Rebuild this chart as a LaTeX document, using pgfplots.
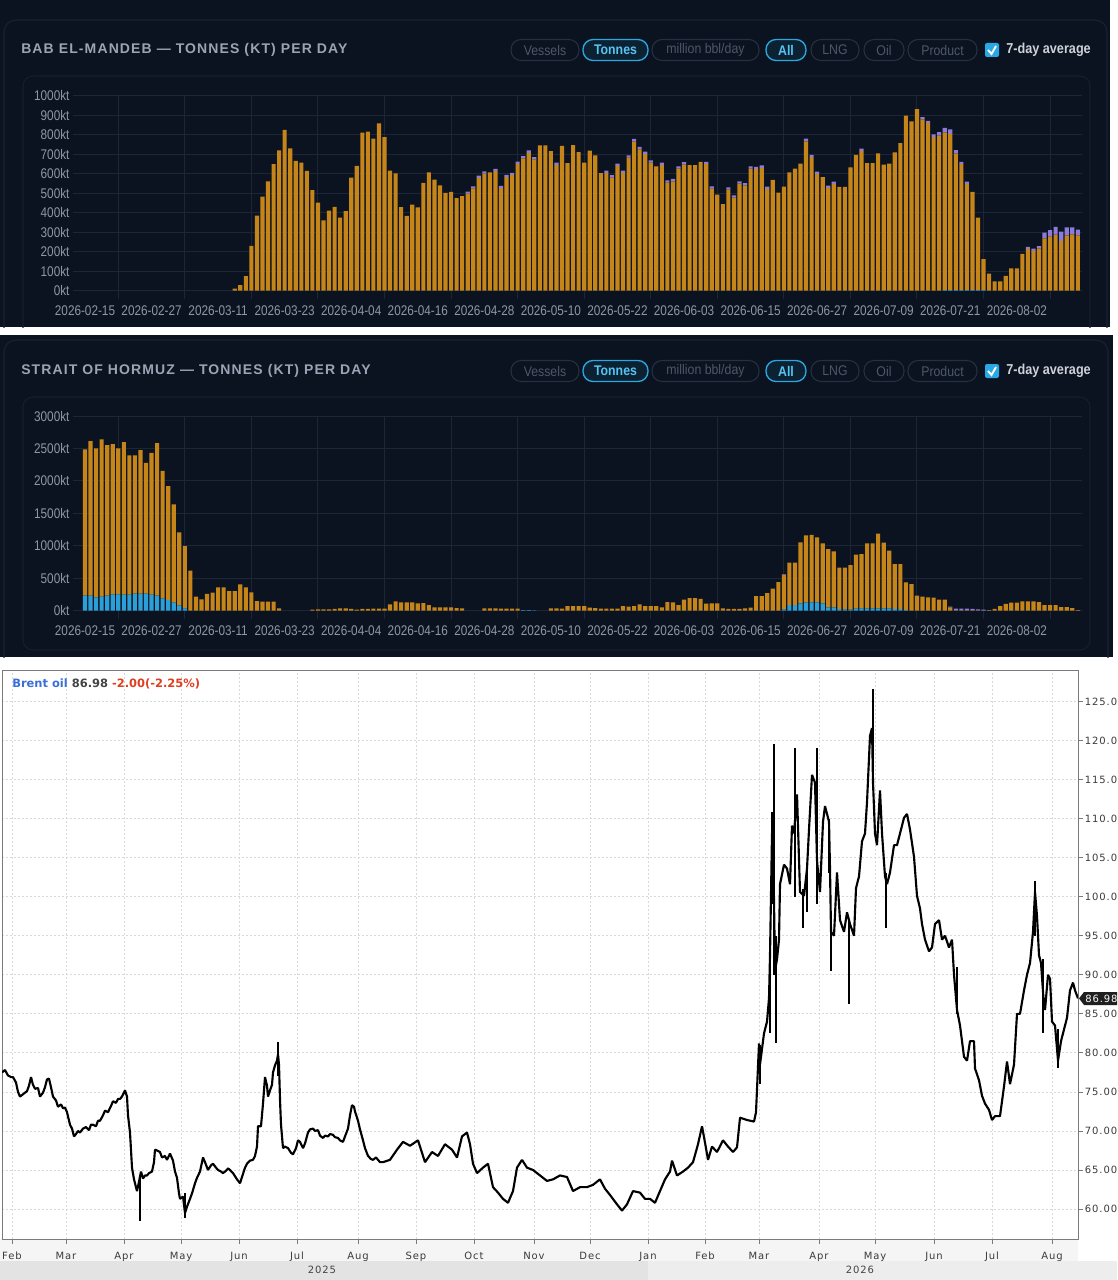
\documentclass[border=0pt]{standalone}
\usepackage{fontspec}
\setmainfont{Liberation Sans}
\newfontfamily\titlefont[LetterSpace=8]{Liberation Sans}
\newfontfamily\tickfont[FakeStretch=0.84]{Liberation Sans}
\newfontfamily\btnfont[FakeStretch=0.88]{Liberation Sans}
\newfontfamily\dvs[LetterSpace=9]{DejaVu Sans}
\newfontfamily\dvsb{DejaVu Sans}
\usepackage{pgfplots}
\usepackage{pgfplotstable}
\pgfplotsset{compat=1.18}

\definecolor{bg}{HTML}{0B1220}
\definecolor{cardc}{HTML}{1A2233}
\definecolor{cardc2}{HTML}{161E2D}
\definecolor{gridc}{HTML}{1C2636}
\definecolor{tickc}{HTML}{8E97A6}
\definecolor{titlec}{HTML}{9AA4B4}
\definecolor{oilc}{HTML}{C58519}
\definecolor{lngc}{HTML}{2B9FD8}
\definecolor{prodc}{HTML}{8C7BD8}
\definecolor{inb}{HTML}{253041}
\definecolor{intc}{HTML}{4E5869}
\definecolor{actb}{HTML}{2AA8E0}
\definecolor{actf}{HTML}{0C2233}
\definecolor{actt}{HTML}{55C4F2}
\definecolor{chk}{HTML}{2AA7E5}
\definecolor{avgc}{HTML}{CDD2D9}
\definecolor{brentblue}{HTML}{3A6FD8}
\definecolor{gray3}{HTML}{444444}
\definecolor{red3}{HTML}{E03C1E}
\definecolor{gridgray}{HTML}{D9D9D9}
\definecolor{axisgray}{HTML}{7A7A7A}
\definecolor{labgray}{HTML}{3A3A3A}

\newcommand{\pill}[5]{%
  \ifnum#4=1
    \draw[actb, fill=actf, line width=1pt, rounded corners=7.5pt] (#1,#3-10.5) rectangle (#2,#3+10.5);
    \node[inner sep=0pt, text=actt, font=\btnfont\bfseries\fontsize{10.5}{12}\selectfont] at ({(#1+#2)/2},#3) {#5};
  \else
    \draw[inb, line width=0.8pt, rounded corners=7.5pt] (#1,#3-10.5) rectangle (#2,#3+10.5);
    \node[inner sep=0pt, text=intc, font=\btnfont\fontsize{10.5}{12}\selectfont] at ({(#1+#2)/2},#3) {#5};
  \fi}
\newcommand{\header}[2]{%
  \node[anchor=west, inner sep=0pt, text=titlec, font=\titlefont\bfseries\fontsize{10.5}{12}\selectfont] at (21,#1) {#2};
  \pill{511}{579}{#1}{0}{Vessels}
  \pill{583}{648}{#1}{1}{Tonnes}
  \pill{652}{759}{#1}{0}{million bbl/day}
  \pill{766}{806}{#1}{1}{All}
  \pill{811}{859}{#1}{0}{LNG}
  \pill{864}{904}{#1}{0}{Oil}
  \pill{908}{977}{#1}{0}{Product}
  \fill[chk, rounded corners=1.5pt] (985,#1-7) rectangle (999,#1+7);
  \draw[white, line width=1.4pt] (988,#1) -- (991.5,#1+4) -- (996,#1-4);
  \node[anchor=west, inner sep=0pt, text=avgc, font=\btnfont\bfseries\fontsize{10.8}{12}\selectfont] at (1006,#1) {7-day average};
}

\pgfplotsset{
 darkax/.style={
  scale only axis, width=757.1pt,
  xmin=-2.2, xmax=179.8, ymin=0, enlargelimits=false,
  ybar stacked, bar width=3.1pt,
  axis line style={draw=none},
  xtick pos=lower, ytick pos=left, tick align=outside,
  major tick length=0pt, minor tick length=6pt,
  minor tick style={gridc, line width=0.75pt},
  xtick={0,12,...,168},
  xticklabels={2026-02-15,2026-02-27,2026-03-11,2026-03-23,2026-04-04,2026-04-16,2026-04-28,2026-05-10,2026-05-22,2026-06-03,2026-06-15,2026-06-27,2026-07-09,2026-07-21,2026-08-02},
  minor xtick={6,18,...,174},
  xmajorgrids=false, xminorgrids=true, ymajorgrids=true,
  grid style={gridc, line width=0.75pt},
  minor grid style={gridc, line width=0.75pt},
  x tick label style={font=\tickfont\fontsize{10.5}{12}\selectfont, text=tickc, anchor=base, inner sep=0pt, yshift=-18.8pt},
  y tick label style={font=\tickfont\fontsize{10.5}{12}\selectfont, text=tickc, anchor=east, inner sep=0pt, xshift=-2.3pt},
  yticklabel={\pgfmathparse{int(\tick)}\pgfmathresult kt},
 }
}

\begin{document}
\pgfplotstableread{
d b o p
27 0 10 0
28 0 28 0
29 0 75 0
30 0 230 0
31 0 385 0
32 0 482 0
33 0 561 0
34 0 649 0
35 0 719 0
36 0 824 0
37 0 730 0
38 0 666 0
39 0 657 0
40 0 614 0
41 0 516 0
42 0 451 0
43 0 360 0
44 0 410 0
45 0 430 0
46 0 375 0
47 0 408 0
48 0 580 0
49 0 640 0
50 0 810 0
51 0 816 0
52 0 780 0
53 0 858 0
54 0 788 0
55 0 616 0
56 0 602 0
57 0 428 0
58 0 384 0
59 0 441 0
60 0 427 0
61 0 553 0
62 0 606 0
63 0 570 0
64 0 540 0
65 0 502 0
66 0 506 0
67 0 475 0
68 0 485 0
69 0 498 10
70 0 525 10
71 0 578 12
72 0 600 12
73 0 606 0
74 0 613 12
75 0 526 12
76 0 582 12
77 0 592 12
78 0 650 12
79 0 678 12
80 0 707 12
81 0 673 12
82 0 745 0
83 0 745 0
84 0 716 0
85 0 644 12
86 0 742 0
87 0 654 0
88 0 747 0
89 0 711 0
90 0 656 0
91 0 718 0
92 0 694 0
93 0 603 0
94 0 604 12
95 0 580 12
96 0 640 12
97 0 604 12
98 0 682 12
99 0 764 14
100 0 725 12
101 0 701 12
102 0 656 12
103 0 638 0
104 0 644 12
105 0 554 12
106 0 561 12
107 0 626 12
108 0 647 12
109 0 644 0
110 0 644 0
111 0 661 0
112 0 649 12
113 0 523 12
114 0 492 0
115 0 444 0
116 0 518 12
117 0 477 12
118 0 549 12
119 0 539 12
120 0 626 12
121 0 623 12
122 0 630 12
123 0 521 12
124 0 568 0
125 0 503 0
126 0 533 0
127 0 606 0
128 0 626 0
129 0 652 0
130 0 766 14
131 0 685 12
132 0 599 12
133 0 582 0
134 0 527 12
135 0 547 12
136 0 532 0
137 0 532 0
138 0 632 0
139 0 697 0
140 0 716 12
141 0 654 0
142 0 654 0
143 0 704 0
144 0 647 0
145 0 652 0
146 0 709 0
147 0 756 0
148 0 897 0
149 0 868 0
150 0 931 0
151 0 878 12
152 0 859 12
153 0 787 15
154 0 795 18
155 3 809 23
156 3 801 23
157 3 700 18
158 3 646 12
159 3 544 12
160 3 503 0
161 3 372 0
162 3 159 0
163 0 88 0
164 0 48 0
165 0 48 0
166 0 76 0
167 0 114 0
168 0 114 0
169 0 189 0
170 0 213 12
171 0 203 12
172 0 217 12
173 0 268 30
174 0 277 33
175 0 287 40
176 0 255 48
177 0 284 40
178 0 289 35
179 0 283 30
}\bab
\pgfplotstableread{
d b o p
0 231 2254 0
1 231 2382 0
2 205 2295 0
3 215 2424 0
4 231 2320 0
5 252 2315 0
6 252 2248 0
7 246 2352 0
8 246 2146 0
9 262 2130 0
10 262 2212 0
11 262 2017 0
12 246 2187 0
13 231 2351 0
14 190 1966 0
15 164 1756 0
16 123 1515 0
17 82 1124 0
18 36 960 0
19 0 616 0
20 0 216 0
21 0 175 0
22 0 257 0
23 0 277 0
24 0 359 0
25 0 359 0
26 0 303 0
27 0 303 0
28 0 405 0
29 0 359 0
30 0 282 0
31 0 149 0
32 0 139 0
33 0 139 0
34 0 139 0
35 0 36 0
36 0 0 0
37 0 0 0
38 0 0 0
39 0 0 0
40 0 0 0
41 0 15 0
42 0 20 0
43 0 20 0
44 0 20 0
45 0 26 0
46 0 36 0
47 0 36 0
48 0 26 0
49 0 15 0
50 0 26 0
51 0 26 0
52 0 31 0
53 0 31 0
54 0 31 0
55 0 98 0
56 0 144 0
57 0 128 0
58 0 128 0
59 0 128 0
60 0 113 0
61 0 118 0
62 0 87 0
63 0 51 0
64 0 51 0
65 0 51 0
66 0 51 0
67 0 41 0
68 0 36 0
69 0 0 0
70 0 0 0
71 0 0 0
72 0 36 0
73 0 36 0
74 0 36 0
75 0 31 0
76 0 31 0
77 0 31 0
78 0 31 0
79 8 0 0
80 8 0 0
81 5 0 0
82 0 0 0
83 0 0 0
84 0 36 0
85 0 36 0
86 0 31 0
87 0 72 0
88 0 72 0
89 0 72 0
90 0 72 0
91 0 46 0
92 0 41 0
93 0 31 0
94 0 31 0
95 0 31 0
96 0 31 0
97 0 72 0
98 0 62 0
99 0 72 0
100 0 98 0
101 0 72 0
102 0 72 0
103 0 72 0
104 0 51 0
105 0 133 0
106 0 128 0
107 0 87 0
108 0 169 0
109 0 195 0
110 0 195 0
111 0 180 0
112 0 108 0
113 0 113 0
114 0 113 0
115 0 36 0
116 0 26 0
117 0 26 0
118 0 26 0
119 0 36 0
120 0 46 0
121 0 226 0
122 0 226 0
123 0 272 0
124 0 339 0
125 0 441 0
126 20 530 10
127 87 652 0
128 87 652 0
129 113 939 0
130 128 1032 0
131 128 1042 0
132 128 1001 0
133 113 924 0
134 52 898 0
135 52 862 0
136 26 636 0
137 20 642 0
138 15 688 0
139 36 826 0
140 36 837 0
141 36 1001 0
142 36 1001 0
143 36 1150 0
144 36 1011 0
145 36 888 0
146 26 693 0
147 26 693 0
148 10 426 0
149 0 411 0
150 0 231 0
151 0 216 0
152 0 205 0
153 0 200 0
154 0 169 0
155 0 169 0
156 0 52 10
157 0 5 26
158 0 5 26
159 0 5 26
160 0 5 21
161 0 5 16
162 0 0 15
163 0 10 0
164 0 26 0
165 0 72 0
166 0 103 0
167 0 123 0
168 0 123 0
169 0 144 0
170 0 144 0
171 0 144 0
172 0 133 0
173 0 87 0
174 0 87 0
175 0 87 0
176 0 56 0
177 0 56 0
178 0 41 0
179 0 10 0
}\hormuz

\begin{tikzpicture}
\useasboundingbox (0,0) rectangle (837.75pt,-960pt);
\clip (0,0) rectangle (837.75pt,-960pt);
\begin{scope}[x=0.75pt,y=-0.75pt]
  \fill[white] (0,0) rectangle (1117,1280);
  \fill[bg] (0,0) rectangle (1110,327);
  \fill[bg] (0,335) rectangle (1113,657);
  \begin{scope}
    \clip (0,0) rectangle (1110,327);
    \draw[cardc, line width=0.8pt, rounded corners=9pt] (4,20) rectangle (1107,420);
    \draw[cardc2, line width=0.8pt, rounded corners=7.5pt] (23,76) rectangle (1090,420);
  \end{scope}
  \begin{scope}
    \clip (0,335) rectangle (1113,657);
    \draw[cardc, line width=0.8pt, rounded corners=9pt] (4,340) rectangle (1108,720);
    \draw[cardc2, line width=0.8pt, rounded corners=7.5pt] (23,397) rectangle (1090,650);
  \end{scope}
  \header{50}{BAB EL-MANDEB — TONNES (KT) PER DAY}
  \header{371}{STRAIT OF HORMUZ — TONNES (KT) PER DAY}
  % Brent bottom bands
  \fill[black!4] (0,1239) rectangle (1078,1261);
  \fill[black!11] (0,1261) rectangle (648,1280);
  \fill[black!7] (648,1261) rectangle (1117,1280);
  \node[inner sep=0pt, text=gray3, font=\dvs\fontsize{7.5}{9}\selectfont] at (322,1270) {2025};
  \node[inner sep=0pt, text=gray3, font=\dvs\fontsize{7.5}{9}\selectfont] at (860,1270) {2026};
\end{scope}

% ---------- Bab el-Mandeb ----------
\begin{axis}[darkax, at={(54.6pt,-218pt)}, anchor=south west, height=146.25pt,
  ymax=1000, ytick={0,100,...,1000}]
  \addplot[fill=lngc, draw=none] table[x=d,y=b]{\bab};
  \addplot[fill=oilc, draw=none] table[x=d,y=o]{\bab};
  \addplot[fill=prodc, draw=none] table[x=d,y=p]{\bab};
\end{axis}

% ---------- Strait of Hormuz ----------
\begin{axis}[darkax, at={(54.6pt,-458pt)}, anchor=south west, height=146pt,
  ymax=3000, ytick={0,500,...,3000}]
  \addplot[fill=lngc, draw=none] table[x=d,y=b]{\hormuz};
  \addplot[fill=oilc, draw=none] table[x=d,y=o]{\hormuz};
  \addplot[fill=prodc, draw=none] table[x=d,y=p]{\hormuz};
\end{axis}

% ---------- Brent ----------
\begin{axis}[at={(1.5pt,-929.25pt)}, anchor=south west, scale only axis,
  width=807pt, height=426.75pt,
  xmin=2, xmax=1078, ymin=56.16, ymax=129.03, enlargelimits=false,
  xtick={12,66,124,181,239,297,358,416,474,534,590,648,705,759,819,875,934,992,1052},
  xticklabels={Feb,Mar,Apr,May,Jun,Jul,Aug,Sep,Oct,Nov,Dec,Jan,Feb,Mar,Apr,May,Jun,Jul,Aug},
  ytick={60,65,...,125},
  xtick pos=lower, ytick pos=right, yticklabel pos=right,
  tick align=outside, major tick length=4pt,
  tick style={axisgray, line width=0.6pt},
  axis line style={axisgray, line width=0.75pt},
  grid=major, grid style={gridgray, dash pattern=on 1.5pt off 1.5pt, line width=0.6pt},
  /pgf/number format/assume math mode=true,
  yticklabel={\pgfmathprintnumber[fixed,fixed zerofill,precision=2]{\tick}},
  y tick label style={font=\dvs\fontsize{7.5}{9}\selectfont, text=labgray, anchor=west, inner sep=0pt, xshift=1pt},
  x tick label style={font=\dvs\fontsize{7.5}{9}\selectfont, text=labgray, anchor=base, inner sep=0pt, yshift=-11pt},
]
\addplot[black, line width=1.6pt, line join=bevel] coordinates {
(2,77.5) (5,77.8) (8,77.1) (11,76.9) (13,76.9) (16,76.2) (18,75.0) (20,74.4) (22,74.6) (25,74.9)
(27,75.1) (29,75.8) (31,76.9) (33,75.9) (35,75.4) (38,75.5) (40,74.4) (43,74.9) (45,75.6) (47,76.6)
(49,76.7) (51,75.6) (53,74.4) (56,73.9) (58,73.1) (61,73.4) (63,72.9) (65,73.0) (67,72.4) (70,70.8)
(72,70.3) (74,69.3) (76,69.6) (78,70.0) (80,69.8) (83,70.3) (86,70.5) (89,70.1) (91,70.8) (93,70.8)
(96,70.6) (98,71.3) (100,71.3) (103,72.0) (105,72.6) (108,72.4) (111,73.2) (113,73.8) (116,73.6) (118,74.1)
(120,74.1) (122,74.4) (125,75.2) (127,74.4) (128,72.0) (130,69.8) (132,65.3) (134,63.8) (135,63.3) (137,62.3)
(139,63.5) (141,64.8) (143,63.9) (145,64.3) (147,64.3) (149,64.6) (152,64.8) (154,66.0) (155,67.6) (157,67.5)
(160,67.3) (162,66.6) (165,66.8) (167,66.3) (170,67.1) (172,66.5) (173,66.2) (175,64.8) (177,64.0) (179,62.0)
(180,61.3) (183,61.6) (185,59.5) (187,60.3) (190,61.3) (192,62.0) (195,63.3) (197,64.0) (200,64.8) (203,66.6)
(205,66.0) (208,65.0) (211,65.6) (213,65.8) (216,65.3) (218,65.0) (221,64.8) (223,64.6) (226,64.9) (228,65.2)
(230,65.0) (233,64.6) (235,64.2) (237,63.8) (240,63.3) (242,64.1) (245,65.3) (247,65.8) (250,66.2) (253,66.3)
(255,66.8) (257,68.0) (258,70.6) (261,70.6) (263,73.5) (265,76.9) (267,75.8) (268,74.4) (270,75.2) (272,75.9)
(273,77.5) (275,78.4) (277,79.0) (278,79.8) (279,78.5) (280,74.0) (281,70.8) (283,67.8) (285,68.0) (288,67.8)
(291,67.2) (293,67.0) (296,67.8) (298,68.8) (300,68.6) (303,67.8) (305,68.4) (308,69.8) (310,70.2) (313,70.3)
(315,70.0) (318,70.1) (320,69.4) (323,69.1) (325,69.4) (328,69.3) (330,69.6) (333,69.5) (335,69.2) (338,69.1)
(340,68.8) (343,68.6) (345,69.3) (348,70.3) (350,72.0) (352,73.3) (354,73.1) (355,72.5) (358,71.3) (360,70.2)
(363,68.8) (365,67.8) (368,66.8) (371,66.4) (373,66.3) (376,66.6) (380,66.0)
(383,66.0) (390,66.3) (397,67.6) (403,68.6) (410,68.1) (418,68.8) (425,66.0) (432,67.3) (438,66.8) (445,68.3)
(452,67.6) (457,66.6) (462,69.3) (467,69.8) (470,68.3) (473,65.8) (477,64.6) (483,65.3) (488,65.8) (493,62.8)
(498,62.1) (503,61.3) (508,60.8) (513,62.3) (517,65.3) (522,66.3) (527,65.3) (533,65.0) (540,64.3) (547,63.6)
(553,63.8) (560,64.3) (567,64.1) (573,62.3) (580,62.8) (587,62.8) (593,63.1) (600,63.8) (605,62.6) (610,61.8)
(617,60.6) (622,59.8) (627,60.6) (633,62.3) (640,62.1) (645,61.3) (650,61.3) (655,60.8) (660,62.3) (665,63.8)
(670,64.8) (672,66.2) (677,64.3) (683,64.8) (688,65.3) (693,66.0) (698,68.3) (702,70.6) (705,68.5) (708,66.3)
(712,68.0) (717,67.3) (723,68.8) (728,68.0) (733,67.3) (737,67.9)
(740,71.7) (747,71.4) (754,71.2) (756,72.4) (759,81.2) (760,78.5) (764,82.5) (767,84.0) (769,87.0) (770,92.5)
(772,108.1) (774,99.5) (775,90.5) (777,92.0) (779,94.5) (780,101.6) (784,104.1) (787,103.6) (790,101.6) (792,109.1)
(794,108.1) (797,113.1) (800,100.6) (804,100.1) (807,103.6) (809,108.6) (812,115.6) (815,114.6) (817,104.6) (820,100.6)
(823,109.6) (825,111.6) (829,109.6) (830,103.6) (831,95.5) (834,95.0) (837,103.1) (840,97.0) (844,95.5) (847,98.0)
(850,96.5) (854,95.0) (856,101.1) (859,102.6) (862,107.1) (865,108.1) (867,112.1) (870,120.6) (872,121.6) (873,114.6)
(875,108.1) (877,106.6) (880,113.6) (882,108.1) (885,102.6) (887,101.6) (890,103.1) (894,106.6) (897,106.6) (900,108.1)
(904,110.1) (907,110.6) (910,108.6) (914,105.1) (917,100.1) (920,98.5) (922,96.5) (925,94.5) (929,93.0) (932,93.5)
(935,96.5) (939,97.0) (942,94.5) (945,95.0) (949,93.5) (952,94.5) (954,90.0) (957,85.5) (960,83.5) (964,79.5)
(967,79.0) (970,81.5) (974,81.5) (975,78.0) (979,76.5) (982,74.5) (985,73.5) (989,72.7) (992,71.4) (995,71.9)
(1000,71.9) (1004,75.7) (1007,78.9) (1010,76.0) (1014,78.5) (1017,85.0) (1020,85.0) (1024,88.0) (1027,90.0) (1030,91.5)
(1033,95.5) (1035,100.6) (1037,97.5) (1039,92.5) (1041,91.5) (1044,86.0) (1045,85.5) (1048,90.0) (1050,89.5) (1052,84.0)
(1055,83.5) (1058,79.0) (1061,81.5) (1064,83.0) (1067,84.5) (1070,88.0) (1073,89.0) (1075,88.0) (1078,86.98)
};
\addplot[draw=none, forget plot, error bars/.cd, y dir=both, y explicit, error mark=none,
  error bar style={black, line width=0.8pt}] coordinates {
(140,61.25) +- (0,2.75)
(185,60.4) +- (0,1.6)
(278,79.2) +- (0,2.2)
(760,78.5) +- (0,2.5)
(770,88.5) +- (0,6)
(772,104.9) +- (0,5.9)
(774,104.8) +- (0,14.8)
(776,88.1) +- (0,6.9)
(795,109.55) +- (0,9.55)
(803,98.5) +- (0,2.5)
(807,101) +- (0,3)
(817,109.05) +- (0,10.05)
(829,106.5) +- (0,3.5)
(831,93.25) +- (0,2.75)
(849,91.6) +- (0,5.4)
(873,120.3) +- (0,6.3)
(886,99.5) +- (0,3.5)
(957,88) +- (0,3)
(1035,98.5) +- (0,3.5)
(1043,87.25) +- (0,4.75)
(1058,80.5) +- (0,2.5)
};
\end{axis}

\begin{scope}[x=0.75pt,y=-0.75pt]
  \node[anchor=west, inner sep=0pt, font=\dvsb\bfseries\fontsize{8.6}{10}\selectfont] at (12,684)
    {\textcolor{brentblue}{Brent oil} \textcolor{gray3}{86.98} \textcolor{red3}{-2.00(-2.25\%)}};
  \fill[black!88] (1079,998.4) -- (1084,992) -- (1117,992) -- (1117,1005) -- (1084,1005) -- cycle;
  \node[anchor=west, inner sep=0pt, text=white, font=\dvs\fontsize{7.5}{9}\selectfont] at (1085,998.6) {86.98};
\end{scope}
\end{tikzpicture}
\end{document}
